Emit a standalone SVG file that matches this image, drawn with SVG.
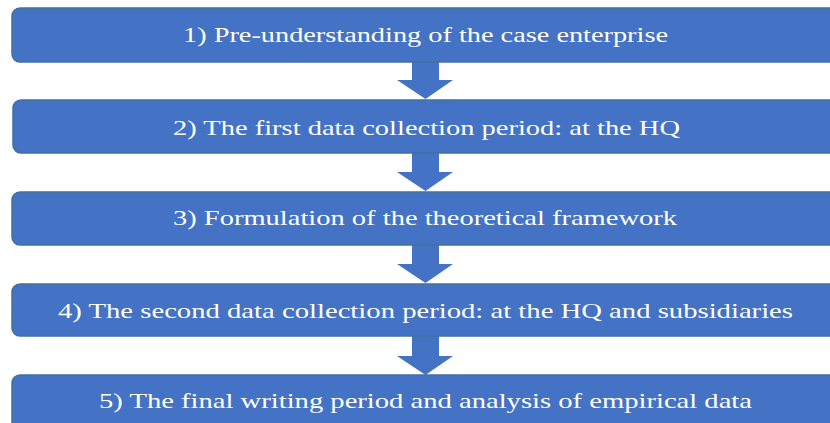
<svg xmlns="http://www.w3.org/2000/svg" width="830" height="423" viewBox="0 0 830 423">
<defs>
<style>
.box{fill:#4472C4;stroke:#41719C;stroke-width:1.5}
.arr{fill:#4472C4}
.t{font-family:"Liberation Serif","Times New Roman",serif;font-size:22px;fill:#ffffff;text-anchor:middle}
</style>
</defs>
<rect width="830" height="423" fill="#ffffff"/>
<g id="connectors">
<polygon class="arr" points="412,62 439,62 439,80 453,80 425.5,99 397,80 412,80"/>
<polygon class="arr" points="412,153 439,153 439,172 453,172 425.5,191 397,172 412,172"/>
<polygon class="arr" points="412,245 439,245 439,264 453,264 425.5,283 397,264 412,264"/>
<polygon class="arr" points="412,336 439,336 439,356 453,356 425.5,375 397,356 412,356"/>
</g>
<g id="node1"><rect class="box" x="12" y="8" width="830" height="54" rx="8"/><text class="t" x="425.5" y="42" textLength="485" lengthAdjust="spacingAndGlyphs">1) Pre-understanding of the case enterprise</text></g>
<g id="node2"><rect class="box" x="13" y="100" width="830" height="53" rx="8"/><text class="t" x="426.5" y="135" textLength="507" lengthAdjust="spacingAndGlyphs">2) The first data collection period: at the HQ</text></g>
<g id="node3"><rect class="box" x="12" y="192" width="830" height="53" rx="8"/><text class="t" x="425" y="225" textLength="504" lengthAdjust="spacingAndGlyphs">3) Formulation of the theoretical framework</text></g>
<g id="node4"><rect class="box" x="12" y="284" width="830" height="52" rx="8"/><text class="t" x="425.5" y="318" textLength="735" lengthAdjust="spacingAndGlyphs">4) The second data collection period: at the HQ and subsidiaries</text></g>
<g id="node5"><rect class="box" x="12" y="375" width="830" height="60" rx="8"/><text class="t" x="425.5" y="408" textLength="653" lengthAdjust="spacingAndGlyphs">5) The final writing period and analysis of empirical data</text></g>
</svg>
